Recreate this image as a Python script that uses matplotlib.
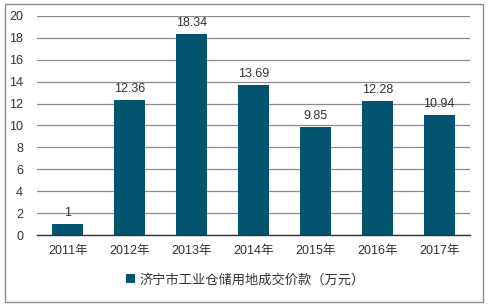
import matplotlib
matplotlib.use("Agg")
import matplotlib.pyplot as plt
from matplotlib.patches import Rectangle

plt.rcParams["font.family"] = ["Liberation Sans", "Noto Sans CJK SC"]

years = ["2011年", "2012年", "2013年", "2014年", "2015年", "2016年", "2017年"]
values = [1, 12.36, 18.34, 13.69, 9.85, 12.28, 10.94]
labels = ["1", "12.36", "18.34", "13.69", "9.85", "12.28", "10.94"]
series_name = "济宁市工业仓储用地成交价款（万元）"

fig = plt.figure(figsize=(4.9, 3.06), dpi=100)
ax = fig.add_axes([37 / 490, 1 - 235 / 306, 433 / 490, 219 / 306])

x = list(range(len(years)))
bars = ax.bar(x, values, width=0.5, color="#02546f", zorder=3, label=series_name)
for xi, v, lab in zip(x, values, labels):
    ax.text(xi, v + 0.45, lab, ha="center", va="bottom", fontsize=9, color="#333333")

ax.set_xlim(-0.5, 6.5)
ax.set_ylim(0, 20)
ax.set_yticks(range(0, 21, 2))
ax.set_xticks(x)
ax.set_xticklabels(years)
ax.yaxis.grid(True, color="#8c8c8c", linewidth=0.9, zorder=0)
ax.tick_params(axis="both", length=0, labelsize=9, colors="#333333")
ax.tick_params(axis="x", pad=7)
ax.tick_params(axis="y", pad=10)
for s in ["left", "right", "top"]:
    ax.spines[s].set_visible(False)
ax.spines["bottom"].set_color("#333333")
ax.spines["bottom"].set_linewidth(1.0)
ax.spines["bottom"].set_zorder(4)

fig.legend(handles=[bars], labels=[series_name], loc="center", bbox_to_anchor=(0.5, 1 - 280 / 306),
           frameon=False, fontsize=9.5, handlelength=0.7, handleheight=0.7, handletextpad=0.3,
           labelcolor="#333333")

fig.patches.append(Rectangle((5 / 490, 4 / 306), 478 / 490, 298 / 306, transform=fig.transFigure,
                             fill=False, edgecolor="#8c8c8c", linewidth=1.0))

fig.savefig("out.png", dpi=100)
